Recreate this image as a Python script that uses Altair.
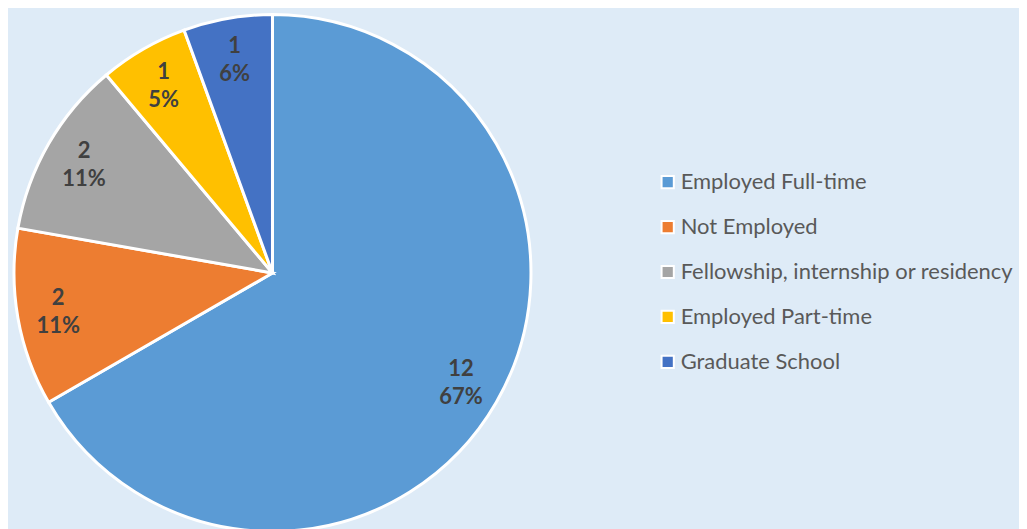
import altair as alt
import pandas as pd

categories = ["Employed Full-time", "Not Employed", "Fellowship, internship or residency",
              "Employed Part-time", "Graduate School"]
counts = [12, 2, 2, 1, 1]
percents = ["67%", "11%", "11%", "5%", "6%"]
colors = ["#5B9BD5", "#ED7D31", "#A5A5A5", "#FFC000", "#4472C4"]

df = pd.DataFrame({
    "category": categories,
    "count": counts,
    "idx": list(range(len(categories))),
    "label": [f"{c}\n{p}" for c, p in zip(counts, percents)],
})

CX, CY = 263, 260

base = alt.Chart(df).encode(
    theta=alt.Theta("count:Q", stack=True),
    order=alt.Order("idx:Q"),
    x=alt.value(CX),
    y=alt.value(CY),
)

pie = base.mark_arc(outerRadius=259, stroke="white", strokeWidth=3).encode(
    color=alt.Color(
        "category:N",
        sort=categories,
        scale=alt.Scale(domain=categories, range=colors),
        legend=alt.Legend(
            title=None,
            orient="none",
            legendX=648,
            legendY=158,
            symbolType="square",
            symbolSize=150,
            symbolStrokeColor="white",
            symbolStrokeWidth=2,
            labelFont="Lato",
            labelFontSize=22,
            labelColor="#595959",
            labelLimit=500,
            rowPadding=23,
            labelOffset=2,
        ),
    )
)

text = base.mark_text(
    radius=218, fontSize=22, fontWeight="bold", font="Lato",
    color="#404040", lineBreak="\n", lineHeight=28, dy=-13,
).encode(text="label:N")

chart = (pie + text).properties(
    width=1011, height=521, background="#DEEBF7", padding=0
).configure_view(stroke=None)

chart.save("out.html", embed_options={"renderer": "svg", "actions": False})
